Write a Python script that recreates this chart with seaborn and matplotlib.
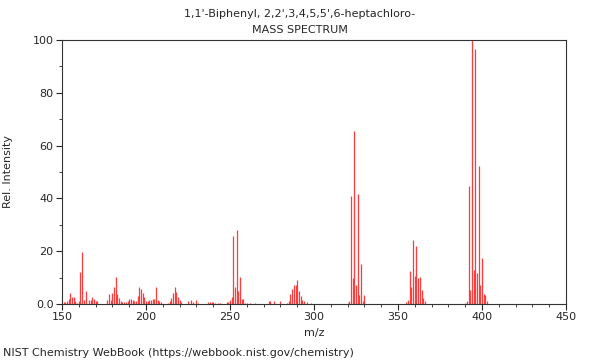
import numpy as np
import pandas as pd
import matplotlib
matplotlib.use("Agg")
import matplotlib.pyplot as plt
import seaborn as sns
from matplotlib.ticker import MultipleLocator, FixedLocator

# peaks (m/z, relative intensity)
mz = [150, 151, 152, 153, 154, 155, 156, 157, 158, 159, 160, 161, 162, 163, 164,
      166, 167, 168, 169, 170, 171, 177, 178, 179, 180, 181, 182, 183, 184, 185,
      186, 187, 188, 189, 190, 191, 192, 193, 194, 195, 196, 197, 198, 199, 200,
      201, 202, 203, 204, 205, 206, 207, 208, 209, 213, 214, 215, 216, 217, 218,
      219, 220, 221, 225, 227, 228, 230, 231, 237, 238, 239, 240, 241, 243, 244,
      248, 249, 250, 251, 252, 253, 254, 255, 256, 257, 258, 259, 260, 262, 265,
      273, 274, 276, 280, 284, 285, 286, 287, 288, 289, 290, 291, 292, 293, 294,
      296, 298, 320, 321, 322, 323, 324, 325, 326, 327, 328, 329, 330,
      355, 356, 357, 358, 359, 360, 361, 362, 363, 364, 365, 366,
      390, 391, 392, 393, 394, 395, 396, 397, 398, 399, 400, 401, 402, 403]
intensity = [0.5, 0.6, 0.8, 1.0, 2.0, 4.3, 2.8, 2.8, 1.0, 0.5, 1.0, 12.0, 19.8, 1.5, 5.0,
             1.5, 1.5, 2.5, 1.8, 1.0, 1.0, 1.5, 3.8, 1.5, 4.3, 6.6, 10.1, 3.8, 2.1, 1.0,
             0.8, 0.8, 0.8, 1.0, 1.9, 2.0, 1.5, 1.0, 1.0, 3.2, 6.4, 5.8, 4.0, 2.8, 1.2,
             1.0, 1.5, 1.5, 2.0, 1.8, 6.6, 1.5, 1.0, 0.6, 0.5, 1.0, 2.1, 4.0, 6.3, 4.7,
             2.8, 1.5, 0.8, 1.3, 1.5, 0.8, 1.5, 0.5, 0.6, 0.8, 0.8, 0.6, 0.5, 0.5, 0.5,
             0.6, 0.8, 1.4, 2.5, 25.8, 6.6, 28.0, 5.0, 10.1, 1.9, 1.9, 0.5, 0.5, 0.5, 0.5,
             1.0, 1.0, 1.0, 1.0, 0.5, 1.0, 3.8, 5.6, 7.2, 7.2, 9.1, 5.0, 3.2, 1.5, 1.0,
             0.8, 0.5, 0.5, 1.0, 40.9, 10.0, 65.6, 7.2, 41.7, 3.4, 15.0, 1.0, 3.3,
             0.9, 1.5, 12.6, 6.6, 24.2, 10.7, 22.0, 9.7, 10.3, 5.3, 2.4, 1.3,
             0.5, 1.0, 44.8, 5.3, 100.0, 12.9, 96.6, 11.9, 52.3, 7.2, 17.4, 3.8, 3.3, 1.0]

title_lines = ["1,1'-Biphenyl, 2,2',3,4,5,5',6-heptachloro-", "MASS SPECTRUM"]
x_ticks = [150, 200, 250, 300, 350, 400, 450]
y_ticks = [0, 20, 40, 60, 80, 100]
y_tick_labels = ["0.0", "20", "40", "60", "80", "100"]

df = pd.DataFrame({"mz": mz, "intensity": intensity})

sns.set_theme(style="ticks")
plt.rcParams["font.family"] = ["DejaVu Sans"]

fig = plt.figure(figsize=(6, 3.6), dpi=100)
ax = fig.add_axes([0.1033, 0.1556, 0.84, 0.7333])

ax.vlines(df["mz"], 0, df["intensity"], color="#ff3b3b", linewidth=0.9)

ax.set_xlim(150, 450)
ax.set_ylim(0, 100)
ax.xaxis.set_major_locator(FixedLocator(x_ticks))
ax.xaxis.set_minor_locator(MultipleLocator(10))
ax.yaxis.set_major_locator(FixedLocator(y_ticks))
ax.set_yticklabels(y_tick_labels)
ax.yaxis.set_minor_locator(MultipleLocator(10))
ax.tick_params(which="major", labelsize=8, length=4, width=0.8, direction="out", pad=2)
ax.tick_params(which="minor", length=2, width=0.6, direction="out")
for s in ax.spines.values():
    s.set_visible(True)
    s.set_linewidth(0.8)
    s.set_color("#333333")

ax.set_xlabel("m/z", fontsize=8, labelpad=4)
ax.set_ylabel("Rel. Intensity", fontsize=8, labelpad=14)

fig.text(0.5, 1 - 14 / 360, title_lines[0], ha="center", va="center", fontsize=8)
fig.text(0.5, 1 - 30 / 360, title_lines[1], ha="center", va="center", fontsize=8)
fig.text(3 / 600, 1 - 353 / 360, "NIST Chemistry WebBook (https://webbook.nist.gov/chemistry)",
         ha="left", va="center", fontsize=8)

fig.savefig("out.png", dpi=100)
